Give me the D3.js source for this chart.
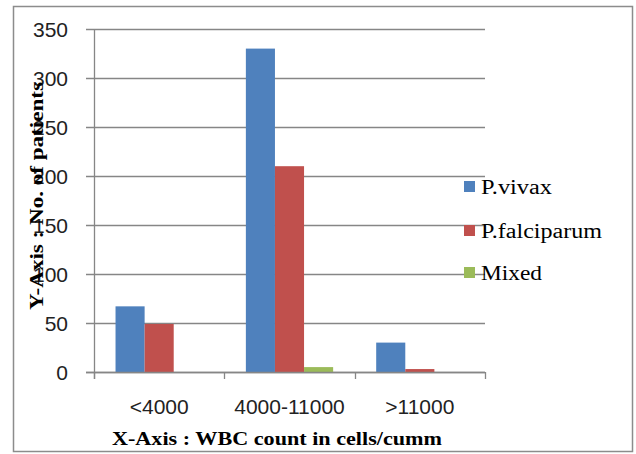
<!DOCTYPE html>
<html>
<head>
<meta charset="utf-8">
<script src="https://cdn.jsdelivr.net/npm/d3@7"></script>
<style>
  html, body { margin: 0; padding: 0; background: #fff; }
  svg { display: block; }
  .serif { font-family: 'Liberation Serif', 'Times New Roman', serif; }
  .sans { font-family: 'Liberation Sans', Arial, sans-serif; }
</style>
</head>
<body>
<svg id="chart" width="636" height="454"></svg>
<script>
// WBC count groups and number of patients per malaria species
const categories = ["<4000", "4000-11000", ">11000"];
const seriesNames = ["P.vivax", "P.falciparum", "Mixed"];
const vivax = [67, 330, 30];
const falciparum = [49, 210, 3];
const mixed = [0, 5, 0];
const yTicks = [0, 50, 100, 150, 200, 250, 300, 350];
const colors = ["#4F81BD", "#C0504D", "#9BBB59"];

const seriesValues = [vivax, falciparum, mixed];
const rows = categories.map((c, i) => ({
  cat: c,
  values: seriesNames.map((s, j) => ({ name: s, value: seriesValues[j][i], color: colors[j] }))
}));

const svg = d3.select("#chart");

// Outer chart frame
svg.append("rect")
  .attr("x", 13.5).attr("y", 6.5)
  .attr("width", 619).attr("height", 445)
  .attr("fill", "#fff").attr("stroke", "#8c8c8c").attr("stroke-width", 1.5);

const plot = { left: 94, right: 485, top: 29, bottom: 372 };

const x = d3.scaleBand().domain(categories).range([plot.left, plot.right]).paddingInner(0).paddingOuter(0);
const x1 = d3.scaleBand().domain(seriesNames).range([0, x.bandwidth()]).paddingOuter(0.74).paddingInner(0);
const y = d3.scaleLinear().domain([0, 350]).range([plot.bottom, plot.top]);

// Horizontal gridlines
svg.append("g")
  .selectAll("line")
  .data(yTicks)
  .join("line")
  .attr("x1", plot.left - 8).attr("x2", plot.right)
  .attr("y1", d => Math.round(y(d)) + 0.5).attr("y2", d => Math.round(y(d)) + 0.5)
  .attr("stroke", "#868686").attr("stroke-width", 1.3);

// Y axis line
svg.append("line")
  .attr("x1", plot.left + 0.5).attr("x2", plot.left + 0.5)
  .attr("y1", y(350)).attr("y2", plot.bottom + 7)
  .attr("stroke", "#868686").attr("stroke-width", 1.3);

// Bars
const groups = svg.append("g").selectAll("g")
  .data(rows)
  .join("g")
  .attr("transform", d => `translate(${x(d.cat)},0)`);

groups.selectAll("rect")
  .data(d => d.values.filter(v => v.value > 0))
  .join("rect")
  .attr("x", d => x1(d.name))
  .attr("width", x1.bandwidth())
  .attr("y", d => y(d.value))
  .attr("height", d => y(0) - y(d.value))
  .attr("fill", d => d.color);

// X axis baseline and category ticks
const xAxis = d3.axisBottom(x).tickSize(0).tickFormat(d => d);
svg.append("line")
  .attr("x1", plot.left - 8).attr("x2", plot.right)
  .attr("y1", plot.bottom + 0.5).attr("y2", plot.bottom + 0.5)
  .attr("stroke", "#868686").attr("stroke-width", 1.3);
const boundaries = categories.map(c => x(c)).concat([x.range()[1]]);
svg.append("g").selectAll("line")
  .data(boundaries)
  .join("line")
  .attr("x1", d => Math.round(d) + 0.5).attr("x2", d => Math.round(d) + 0.5)
  .attr("y1", plot.bottom).attr("y2", plot.bottom + 7)
  .attr("stroke", "#868686").attr("stroke-width", 1.3);

const xg = svg.append("g")
  .attr("transform", `translate(0,${plot.bottom + 24})`)
  .call(xAxis)
  .attr("font-family", null);
xg.select(".domain").remove();
xg.selectAll("text")
  .attr("class", "sans")
  .attr("font-size", 21)
  .attr("fill", "#222")
  .attr("dy", "0.71em");

// Y axis labels
const yAxis = d3.axisLeft(y).tickValues(yTicks).tickSize(0).tickPadding(0);
const yg = svg.append("g")
  .attr("transform", `translate(${plot.left - 26},0)`)
  .call(yAxis)
  .attr("font-family", null);
yg.select(".domain").remove();
yg.selectAll("text")
  .attr("class", "sans")
  .attr("font-size", 21)
  .attr("fill", "#222")
  .attr("dy", "0.36em");

// Axis titles
svg.append("text")
  .attr("class", "serif")
  .attr("x", 112).attr("y", 445)
  .attr("font-weight", "bold").attr("font-size", 19)
  .attr("textLength", 330).attr("lengthAdjust", "spacingAndGlyphs")
  .attr("fill", "#000")
  .text("X-Axis : WBC count in cells/cumm");

svg.append("text")
  .attr("class", "serif")
  .attr("transform", "translate(43,310) rotate(-90)")
  .attr("font-weight", "bold").attr("font-size", 19)
  .attr("textLength", 228).attr("lengthAdjust", "spacingAndGlyphs")
  .attr("fill", "#000")
  .text("Y-Axis : No. of patients");

// Legend
const legendY = [181, 225, 267];
const legendW = [71, 121, 61];
const legend = svg.append("g").selectAll("g")
  .data(seriesNames)
  .join("g")
  .attr("transform", (d, i) => `translate(464,${legendY[i]})`);
legend.append("rect")
  .attr("width", 11).attr("height", 11)
  .attr("fill", (d, i) => colors[i]);
legend.append("text")
  .attr("class", "serif")
  .attr("x", 17).attr("y", 13)
  .attr("font-size", 20)
  .attr("textLength", (d, i) => legendW[i]).attr("lengthAdjust", "spacingAndGlyphs")
  .attr("fill", "#000")
  .text(d => d);
</script>
</body>
</html>
